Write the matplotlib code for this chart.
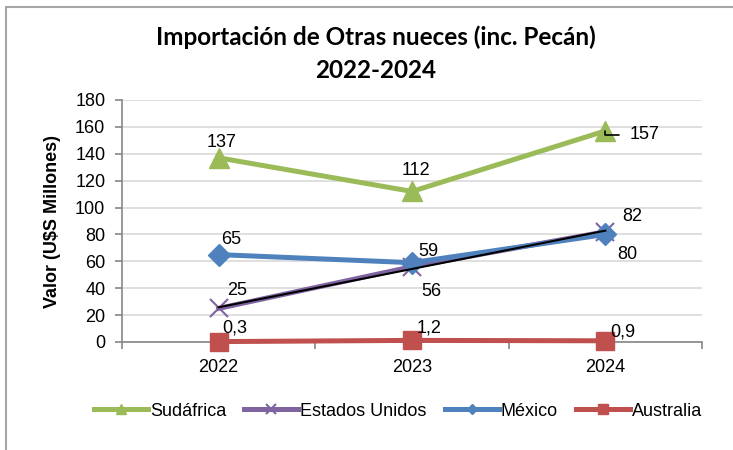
import matplotlib
matplotlib.use("Agg")
import matplotlib.pyplot as plt
from matplotlib.patches import Rectangle

years = ["2022", "2023", "2024"]
sudafrica = [137, 112, 157]
estados_unidos = [25, 56, 82]
mexico = [65, 59, 80]
australia = [0.3, 1.2, 0.9]
lbl_sud = ["137", "112", "157"]
lbl_eu = ["25", "56", "82"]
lbl_mex = ["65", "59", "80"]
lbl_aus = ["0,3", "1,2", "0,9"]
yticks = [0, 20, 40, 60, 80, 100, 120, 140, 160, 180]

W, H = 733, 450
fig = plt.figure(figsize=(W / 100, H / 100), dpi=100)
plt.rcParams['font.family'] = ["Liberation Sans Narrow", "Liberation Sans", "DejaVu Sans"]

# outer frame
fig.patches.append(Rectangle((6 / W, -0.1), 1.2, (H - 7) / H + 0.1, transform=fig.transFigure,
                             fill=False, edgecolor="#A6A6A6", lw=1.5))

ax = fig.add_axes([122 / W, (H - 342) / H, (702 - 122) / W, (342 - 100) / H])
x = list(range(len(years)))

green, purple, blue, red = "#9BBB59", "#8064A2", "#4F81BD", "#C0504D"
ax.plot(x, sudafrica, color=green, lw=3.6, marker="^", ms=14, label="Sudáfrica", zorder=3, clip_on=False)
ax.plot(x, estados_unidos, color=purple, lw=3.6, marker="x", ms=13, mew=1.5, label="Estados Unidos", zorder=3, clip_on=False)
ax.plot(x, mexico, color=blue, lw=3.6, marker="D", ms=11, label="México", zorder=3, clip_on=False)
ax.plot(x, australia, color=red, lw=3.6, marker="s", ms=13, label="Australia", zorder=3, clip_on=False)

# linear trendline on Estados Unidos
n = len(x)
mx = sum(x) / n
my = sum(estados_unidos) / n
slope = sum((xi - mx) * (yi - my) for xi, yi in zip(x, estados_unidos)) / sum((xi - mx) ** 2 for xi in x)
icpt = my - slope * mx
ax.plot([x[0], x[-1]], [icpt + slope * x[0], icpt + slope * x[-1]], color="black", lw=1.5, zorder=4)

ax.set_xlim(-0.5, 2.5)
ax.set_ylim(0, 180)
ax.set_yticks(yticks)
ax.set_xticks(x)
ax.set_xticklabels(years)
ax.set_xticks([-0.5, 0.5, 1.5, 2.5], minor=True)
ax.tick_params(axis="x", which="major", length=0, pad=12, labelsize=13)
ax.tick_params(axis="x", which="minor", length=5, color="#868686", width=1.2)
ax.tick_params(axis="y", length=5, color="#868686", width=1.2, pad=7, labelsize=13)
ax.grid(axis="y", color="#D9D9D9", lw=1.2)
ax.set_axisbelow(True)
for s in ["top", "right"]:
    ax.spines[s].set_visible(False)
for s in ["left", "bottom"]:
    ax.spines[s].set_color("#868686")
    ax.spines[s].set_linewidth(1.2)

ax.set_ylabel("Valor (U$S Millones)", fontsize=13, fontweight="bold", labelpad=10)

def lab(vals, texts, offs):
    for xi, v, t, (dx, dy) in zip(x, vals, texts, offs):
        ax.annotate(t, (xi, v), xytext=(dx, -dy), textcoords="offset pixels",
                    ha="center", va="center", fontsize=13, zorder=6)

lab(sudafrica, lbl_sud, [(3, -15), (4, -21), (39, 4)])
lab(estados_unidos, lbl_eu, [(18, -18), (19, 25), (27, -15)])
lab(mexico, lbl_mex, [(13, -15), (16, -11), (22, 20)])
lab(australia, lbl_aus, [(16, -14), (17, -12), (17, -9)])

# leader line for 157
ax.annotate("", xy=(x[2], sudafrica[2]), xytext=(14, -4), textcoords="offset pixels",
            arrowprops=dict(arrowstyle="-", color="black", lw=1.2,
                            connectionstyle="angle,angleA=0,angleB=90,rad=0",
                            shrinkA=0, shrinkB=0))

fig.text(376 / W, 1 - 37 / H, "Importación de Otras nueces (inc. Pecán)", ha="center", va="center",
         fontsize=17.5, fontweight="bold", family=["Lato", "DejaVu Sans"])
fig.text(376 / W, 1 - 70 / H, "2022-2024", ha="center", va="center",
         fontsize=17.5, fontweight="bold", family=["Lato", "DejaVu Sans"])

leg = fig.legend(loc="center", bbox_to_anchor=(398 / W, 1 - 411 / H), ncol=4, frameon=False,
                 fontsize=13, handlelength=3.0, handletextpad=0.1, columnspacing=1.0,
                 markerscale=0.5)

fig.savefig("out.png", dpi=100)
